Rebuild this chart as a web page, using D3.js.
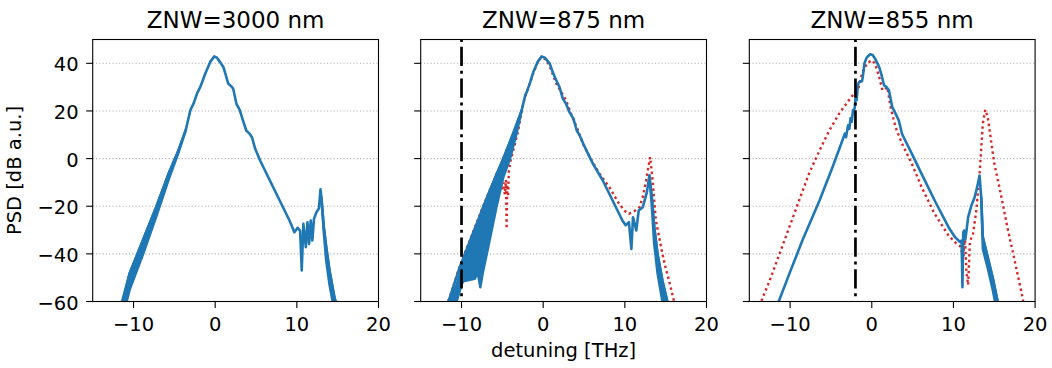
<!DOCTYPE html>
<html><head><meta charset="utf-8">
<script src="https://cdn.jsdelivr.net/npm/d3@7"></script>
<style>
body{margin:0;background:#fff}
text{font-family:"DejaVu Sans",sans-serif;fill:#000}
</style>
</head><body>
<svg id="c" width="1052" height="368"></svg>
<script>
// ---------- data ----------
const titles = ["ZNW=3000 nm", "ZNW=875 nm", "ZNW=855 nm"];
const xTicks = [-10, 0, 10, 20];
const yTicks = [-60, -40, -20, 0, 20, 40];
const xDomain = [-15, 20];
const yDomain = [-60, 50];
const xLabel = "detuning [THz]";
const yLabel = "PSD [dB a.u.]";
const markerX = [null, -10, -2];

// panel 1 (measured, blue)
const blue1 = [[-11.6,-62.5],[-11.3,-60],[-10.47,-48.1],[-8.84,-34.2],[-7.21,-20.2],[-5.69,-6.2],[-4.5,3.4],[-3.6,12],[-3.04,20.3],[-2.6,23.5],[-2.23,27.3],[-1.82,30.1],[-1.5,33],[-1.21,35.7],[-0.61,40.6],[-0.12,42.9],[0.2,42.4],[0.6,40.5],[1.0,38.5],[1.3,35],[1.6,31.5],[2.0,30.2],[2.2,29.4],[2.6,23],[3.0,20.5],[3.4,16],[3.8,11.8],[4.2,10.5],[4.5,9],[4.9,4.1],[5.5,-0.8],[6.1,-5],[6.7,-9.2],[7.3,-13.4],[7.9,-17.6],[8.5,-21.8],[9.1,-26],[9.7,-30.9],[10.1,-29.1],[10.4,-30.2],[10.6,-47],[10.8,-27.4],[11.1,-37.2],[11.3,-26.7],[11.5,-35.8],[11.7,-26],[11.9,-34.4],[12.1,-25.3],[12.4,-22.5],[12.7,-21],[12.9,-12.9],[13.0,-16.2],[13.3,-28.7],[13.6,-37.2],[14.0,-47],[14.6,-58.2],[14.9,-62]];
const band1 = [[-11.6,-70,-62.5],[-10.47,-55,-48.1],[-8.84,-40.2,-34.2],[-7.21,-24.2,-20.2],[-5.69,-8.7,-6.2],[-4.5,2.4,3.4],[-3.6,12,12],[13.0,-16.2,-16.2],[13.3,-31,-28.7],[13.6,-43,-37.2],[14.0,-53,-47],[14.6,-64,-58.2],[14.9,-67,-62]];
const red1 = [];

// panel 2
const blue2 = [[-11.9,-62],[-11.6,-60],[-11.4,-58],[-10.2,-45.4],[-7.33,-20.2],[-4.88,0],[-3.7,10.4],[-2.62,20.4],[-2.2,26.6],[-2.0,28],[-1.6,32],[-1.2,36.4],[-0.7,40.5],[-0.2,42.9],[0.2,42.4],[0.8,39.9],[1.2,36],[1.6,32.9],[2.0,30],[2.4,25.2],[2.8,23],[3.2,19.6],[3.7,16.8],[4.1,11.9],[4.5,9.5],[4.9,6.3],[5.5,2],[6.1,-2.2],[7.3,-9.2],[8.5,-17.6],[9.7,-26],[10.1,-28],[10.5,-26.7],[10.8,-37.9],[11.0,-24.6],[11.4,-30.2],[11.7,-21.8],[12.2,-20.4],[12.7,-14.1],[13.0,-7.1],[13.3,-16.2],[13.6,-28.8],[14.0,-40],[14.6,-51.2],[15.2,-60],[15.4,-63]];
const band2 = [[-11.9,-64,-62],[-10.6,-60,-53],[-10.0,-53,-46],[-9.8,-51.5,-44],[-8.4,-50.5,-31],[-8.0,-48,-28],[-7.7,-54,-25],[-7.4,-48,-21],[-6.9,-40,-16.5],[-5.7,-20,-6.5],[-4.9,-8,-0.2],[-4.06,0,7],[-3.3,10,13.5],[-2.62,20.4,20.4],[13.0,-7.1,-7.1],[13.3,-20,-16.2],[13.6,-36,-28.8],[14.0,-48,-40],[14.6,-60,-51.2],[15.4,-70,-63]];
const red2 = [[-11.8,-62],[-11.4,-57.6],[-10.2,-45],[-7.33,-19.8],[-5.6,-5.5],[-5.0,-13],[-4.85,-10],[-4.7,-15],[-4.55,-9],[-4.48,-29.5],[-4.4,-11],[-4.3,-16],[-4.2,-5],[-4.0,-1],[-3.86,0.8],[-3.45,6.4],[-3.04,12],[-2.62,20.4],[-2.3,25],[-1.8,30],[-1.2,36],[-0.6,41],[-0.2,42.5],[0.4,41.5],[1.0,37],[1.6,31.5],[2.2,28],[2.8,24.5],[3.5,18],[4.1,13.3],[4.9,6],[5.7,0.6],[6.9,-6.4],[8.1,-12],[9.3,-19],[10.0,-22],[10.5,-23.2],[11.2,-22],[11.8,-20.4],[12.2,-16],[12.6,-9.2],[13.1,0.6],[13.4,-9.2],[13.8,-26],[14.2,-33],[14.6,-40],[15.0,-46],[15.4,-51],[16.0,-59.6],[16.2,-62]];

// panel 3
const blue3 = [[-11.7,-63],[-11.4,-60],[-10.1,-48.4],[-8.5,-34.4],[-6.4,-17.6],[-4.8,-3.5],[-3.6,7.6],[-3.3,10.5],[-3.15,9],[-2.9,14],[-2.75,12.5],[-2.6,17],[-2.45,15.5],[-2.3,20.3],[-2.1,21],[-2.0,25.2],[-1.85,24.5],[-1.7,31],[-1.55,32.2],[-1.2,32.5],[-1.1,34.3],[-0.9,40],[-0.6,42.5],[-0.2,43.8],[0.1,43.5],[0.4,42],[0.9,38.5],[1.2,35],[1.5,30.8],[1.8,30],[2.1,28.7],[2.5,21.7],[2.9,19],[3.3,16.1],[3.7,10.4],[4.1,7.6],[4.9,2.1],[6.1,-6.4],[7.7,-17.6],[9.4,-28.8],[10.2,-33],[10.8,-35],[11.0,-34.4],[11.1,-54],[11.2,-31],[11.3,-30.2],[11.45,-34],[11.6,-30.2],[11.8,-24.6],[12.2,-19.7],[12.6,-16.2],[12.9,-12],[13.2,-7.1],[13.4,-16.2],[13.6,-33],[14.2,-41.4],[14.8,-49.8],[15.4,-59.6],[15.5,-62]];
const band3 = [[13.4,-16.2,-16.2],[13.6,-38,-33],[14.2,-46,-41.4],[14.8,-55,-49.8],[15.5,-67,-62]];
const red3 = [[-13.7,-62],[-13.5,-59.6],[-12.5,-51.2],[-11.3,-40],[-10.1,-28.8],[-8.9,-17.6],[-7.7,-6.4],[-6.4,3.4],[-5.2,11.8],[-4.0,18.9],[-2.8,24.5],[-2.0,28],[-1.6,30],[-1.2,35.7],[-0.6,39.9],[0.0,41.3],[0.4,39.9],[0.9,34.3],[1.3,28.7],[1.6,29],[1.9,30],[2.3,21.7],[2.9,13.3],[3.7,6.3],[4.9,-2.1],[6.1,-12],[7.7,-23.2],[9.4,-32.3],[10.4,-35.8],[10.9,-37],[11.2,-42],[11.4,-33],[11.6,-48],[11.8,-53],[12.0,-36],[12.2,-33],[12.4,-31.6],[12.8,-21.8],[13.2,-6.4],[13.6,14.6],[13.9,20.5],[14.2,17.5],[14.6,7.7],[15.0,-2.1],[15.8,-14.8],[16.6,-28.8],[17.5,-42.8],[18.5,-59],[18.6,-62]];

const blues = [blue1, blue2, blue3];
const bands = [band1, band2, band3];
const reds = [red1, red2, red3];

// ---------- layout ----------
const panelLeft = [92.7, 420.7, 749.3];
const panelW = 285.8, panelTop = 39.5, panelH = 262;
const BLUE = "#1f77b4", RED = "#d62728";
const tickFont = 19.5, titleFont = 23;

const svg = d3.select("#c");
svg.append("rect").attr("width",1052).attr("height",368).attr("fill","#fff");

const y = d3.scaleLinear().domain(yDomain).range([panelTop + panelH, panelTop]);

titles.forEach((t, i) => {
  const L = panelLeft[i];
  const x = d3.scaleLinear().domain(xDomain).range([L, L + panelW]);
  const g = svg.append("g");
  const cid = "clip" + i;
  svg.append("clipPath").attr("id", cid).append("rect")
    .attr("x", L).attr("y", panelTop).attr("width", panelW).attr("height", panelH);

  // grid
  g.selectAll(".grid").data(yTicks).enter().append("line")
    .attr("x1", L).attr("x2", L + panelW)
    .attr("y1", d => y(d)).attr("y2", d => y(d))
    .attr("stroke", "#b0b0b0").attr("stroke-width", 1.1)
    .attr("stroke-dasharray", "1.1,2.2");

  const plot = g.append("g").attr("clip-path", `url(#${cid})`);
  const line = d3.line().x(d => x(d[0])).y(d => y(d[1]));
  const area = d3.area().x(d => x(d[0])).y0(d => y(d[1])).y1(d => y(d[2]));

  if (reds[i].length) {
    plot.append("path").attr("d", line(reds[i])).attr("fill", "none")
      .attr("stroke", RED).attr("stroke-width", 2.4).attr("stroke-dasharray", "2.4,3.2");
  }
  // bands (split on gaps)
  const b = bands[i];
  const segs = [];
  let cur = [];
  b.forEach((p, k) => {
    if (k > 0 && p[0] - b[k-1][0] > 3) { segs.push(cur); cur = []; }
    cur.push(p);
  });
  if (cur.length) segs.push(cur);
  segs.forEach(s => {
    plot.append("path").attr("d", area(s)).attr("fill", BLUE)
      .attr("stroke", BLUE).attr("stroke-width", 2.5).attr("stroke-linejoin", "round");
  });
  plot.append("path").attr("d", line(blues[i])).attr("fill", "none")
    .attr("stroke", BLUE).attr("stroke-width", 2.6).attr("stroke-linejoin", "round");

  if (markerX[i] !== null) {
    plot.append("line").attr("x1", x(markerX[i])).attr("x2", x(markerX[i]))
      .attr("y1", y(yDomain[1])).attr("y2", y(yDomain[0]))
      .attr("stroke", "#000").attr("stroke-width", 2.7)
      .attr("stroke-dasharray", "3,4.8,19.2,4.8").attr("stroke-dashoffset", 0.6);
  }

  // frame
  g.append("rect").attr("x", L).attr("y", panelTop).attr("width", panelW).attr("height", panelH)
    .attr("fill", "none").attr("stroke", "#000").attr("stroke-width", 1.1);

  // x ticks
  xTicks.forEach(v => {
    g.append("line").attr("x1", x(v)).attr("x2", x(v))
      .attr("y1", panelTop + panelH).attr("y2", panelTop + panelH + 6.5)
      .attr("stroke", "#000").attr("stroke-width", 1.1);
    g.append("text").attr("x", x(v)).attr("y", 330.5).attr("text-anchor", "middle")
      .attr("font-size", tickFont).text(d3.format("")(v));
  });
  // y ticks
  yTicks.forEach(v => {
    g.append("line").attr("x1", L - 6.5).attr("x2", L)
      .attr("y1", y(v)).attr("y2", y(v)).attr("stroke", "#000").attr("stroke-width", 1.1);
    if (i === 0) {
      g.append("text").attr("x", L - 14).attr("y", y(v) + 8).attr("text-anchor", "end")
        .attr("font-size", tickFont).text(d3.format("")(v));
    }
  });
  // title
  g.append("text").attr("x", L + panelW / 2).attr("y", 27.5).attr("text-anchor", "middle")
    .attr("font-size", titleFont).text(t);
});

svg.append("text").attr("x", panelLeft[1] + panelW / 2).attr("y", 357)
  .attr("text-anchor", "middle").attr("font-size", tickFont).text(xLabel);
svg.append("text").attr("transform", `translate(21,${panelTop + panelH / 2}) rotate(-90)`)
  .attr("text-anchor", "middle").attr("font-size", tickFont).text(yLabel);
</script>
</body></html>
